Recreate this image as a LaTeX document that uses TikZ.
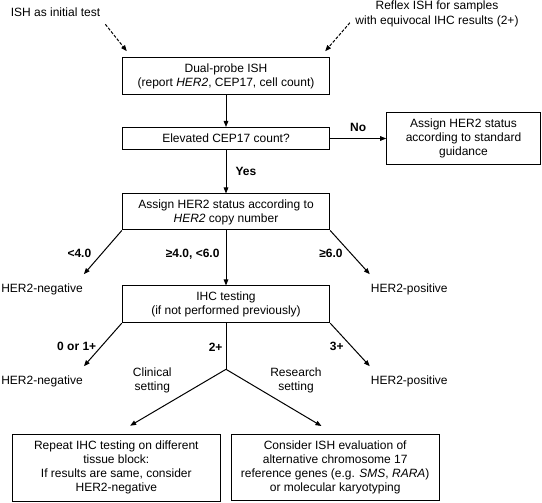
\documentclass[tikz,border=0pt]{standalone}
\usepackage{fontspec}
\setmainfont{Liberation Sans}
\usetikzlibrary{arrows.meta, positioning}

\tikzset{
  box/.style = {draw, line width=1pt, align=center, inner sep=2pt, minimum width=207.4pt,
    font=\fontsize{12}{14}\selectfont},
  txt/.style = {align=center, inner sep=1pt, font=\fontsize{12}{14}\selectfont},
  lbl/.style = {inner sep=1pt, font=\fontsize{12}{14}\selectfont\bfseries},
  flow/.style = {-{Triangle[length=6pt,width=4.6pt]}, line width=1pt},
  dashflow/.style = {flow, dash pattern=on 3pt off 1.6pt},
}

\begin{document}
\begin{tikzpicture} [x=1pt, y=-1pt, node distance = 2cm, on grid, auto]
        \useasboundingbox (0,0) rectangle (542,503);

        \node (dual) [box, minimum height=36.6pt] at (226,76) {Dual-probe ISH\\(report \textit{HER2}, CEP17, cell count)};
        \node (cep) [box, minimum height=22pt, below = 62.5pt of dual] {Elevated CEP17 count?};
        \node (std) [box, minimum width=153.6pt, minimum height=51.6pt, right = 237.5pt of cep] {Assign HER2 status\\according to standard\\guidance};
        \node (assign) [box, minimum height=36pt, below = 73.5pt of cep] {Assign HER2 status according to\\\textit{HER2} copy number};
        \node (ihc) [box, minimum height=36.7pt, below = 92.3pt of assign] {IHC testing\\(if not performed previously)};
        \node (neg1) [txt, below left = 77pt and 184pt of assign] {HER2-negative};
        \node (pos1) [txt, below right = 77pt and 183.3pt of assign] {HER2-positive};
        \node (neg2) [txt, below left = 76.7pt and 184pt of ihc] {HER2-negative};
        \node (pos2) [txt, below right = 76.7pt and 183.3pt of ihc] {HER2-positive};
        \coordinate [below = 65pt of ihc] (split);
        \node (repeat) [box, minimum height=66.7pt, below left = 98.4pt and 109.7pt of split, anchor=center] {Repeat IHC testing on different\\tissue block:\\If results are same, consider\\HER2-negative};
        \node (consider) [box, minimum width=208.3pt, minimum height=66pt, below right = 98.4pt and 109.2pt of split, anchor=center] {Consider ISH evaluation of\\alternative chromosome 17\\reference genes (e.g. \textit{SMS}, \textit{RARA})\\or molecular karyotyping};
        \node (clin) [txt, below left = 11.5pt and 73.7pt of split, anchor=center] {Clinical\\setting};
        \node (res) [txt, below right = 11pt and 70pt of split, anchor=center] {Research\\setting};
        \node (init) [txt, above left = 63.7pt and 170.5pt of dual] {ISH as initial test};
        \node (reflex) [txt, above right = 62.3pt and 211pt of dual] {Reflex ISH for samples\\[1.6pt]with equivocal IHC results (2+)};

        \coordinate (initTail) at ([xshift=4pt,yshift=-6.4pt]init.south east);
        \coordinate (reflexTail) at ([xshift=-4.4pt,yshift=5.5pt]reflex.south west);

        \path [dashflow] (initTail) edge ([xshift=5pt,yshift=6pt]dual.north west);
        \path [dashflow] (reflexTail) edge ([xshift=-5pt,yshift=6pt]dual.north east);
        \path [flow] (dual) edge (cep);
        \path [flow] (cep) edge node [lbl, above=5pt] {No} (std);
        \path [flow] (cep) edge node [lbl, right=8pt] {Yes} (assign);
        \path [flow] (assign.south west) edge node [lbl, pos=.53, left=9pt] {<4.0} ([yshift=8pt]neg1.north east);
        \path [flow] (assign) edge node [lbl, pos=.43, left=5pt] {≥4.0, <6.0} (ihc);
        \path [flow] (assign.south east) edge node [lbl, pos=.53, left=7pt] {≥6.0} ([yshift=8pt]pos1.north west);
        \path [flow] (ihc.south west) edge node [lbl, pos=.53, left=4pt] {0 or 1+} ([yshift=8pt]neg2.north east);
        \path [flow] (ihc.south east) edge node [lbl, pos=.53, left=6pt] {3+} ([yshift=8pt]pos2.north west);
        \draw [line width=1pt] (ihc) -- node [lbl, pos=.515, left=2pt] {2+} (split);
        \path [flow, shorten >=16pt] (split) edge (repeat.north);
        \path [flow, shorten >=16pt] (split) edge (consider.north);

    \end{tikzpicture}
\end{document}
